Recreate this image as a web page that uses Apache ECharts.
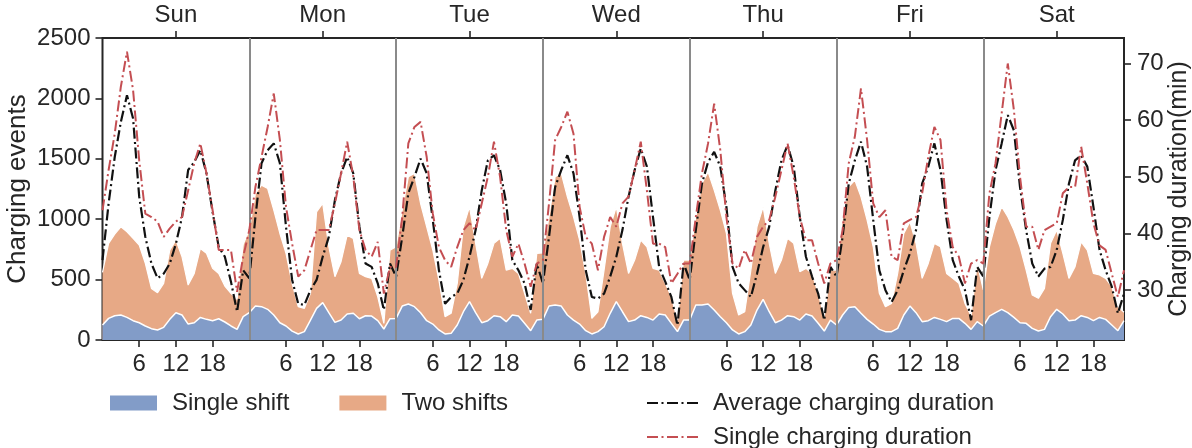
<!DOCTYPE html>
<html>
<head>
<meta charset="utf-8">
<script src="https://cdn.jsdelivr.net/npm/echarts@6/dist/echarts.min.js"></script>
<style>
  html, body { margin: 0; padding: 0; background: #ffffff; }
  #chart { width: 1192px; height: 448px; }
</style>
</head>
<body>
<div id="chart"></div>
<script>
// Week of hourly charging activity: one row per day, 24 hourly values each.
const days = ['Sun', 'Mon', 'Tue', 'Wed', 'Thu', 'Fri', 'Sat'];
const hourTicks = [6, 12, 18];
const eventTicks = [0, 500, 1000, 1500, 2000, 2500];
const durationTicks = [30, 40, 50, 60, 70];

// Charging events by drivers working a single shift
const singleShift = [
  [124,179,201,207,187,160,143,116,94,83,105,171,226,207,132,143,187,171,160,176,149,116,88,193],
  [226,281,276,254,207,143,116,74,50,69,165,262,309,226,146,165,215,221,176,201,198,160,91,176],
  [179,281,298,276,226,160,132,83,50,55,124,234,317,226,143,160,201,193,152,207,198,138,77,165],
  [171,281,289,281,207,165,132,77,50,69,110,221,317,234,152,165,201,187,165,215,207,138,69,165],
  [165,289,289,298,248,193,143,83,50,69,124,248,336,234,143,165,201,193,165,215,198,138,74,165],
  [124,207,270,276,221,171,132,88,69,69,96,207,281,226,152,160,187,171,152,179,179,138,88,152],
  [116,198,226,254,226,187,143,138,96,74,88,193,254,215,160,165,201,187,160,187,171,124,77,160]
];

// Charging events by drivers working two shifts (stacked on top)
const twoShifts = [
  [436,621,676,730,709,681,643,518,333,308,364,573,601,482,323,408,571,546,433,375,298,270,248,597],
  [684,932,1006,1000,868,739,601,395,226,193,221,799,821,546,378,483,653,620,375,323,312,198,47,568],
  [593,794,1053,1103,904,777,612,413,143,166,345,703,786,574,367,474,599,648,427,386,353,248,144,552],
  [551,739,1062,1098,978,855,695,474,129,165,469,716,786,566,399,497,626,585,428,364,262,220,96,497],
  [497,731,1007,1094,993,882,739,303,157,165,455,689,767,566,408,497,640,607,400,378,353,248,119,414],
  [455,813,998,1047,964,822,640,298,207,234,455,675,698,574,358,474,613,601,399,331,290,165,112,482],
  [298,574,739,849,794,723,629,441,276,271,339,607,656,502,350,442,612,557,391,351,339,317,199,70]
];

// Average charging duration (min)
const avgDuration = [
  [35.3,45.3,53.5,59.7,64.4,60.3,46.5,39.4,34.7,32.1,32.9,34.7,38.2,42.9,51.2,52.6,54.7,50.6,43.8,37.6,35.9,31.5,26.2,33.5],
  [32.1,42.9,52.4,54.7,55.9,52.4,41.2,31.8,27.6,27.4,30.0,31.8,35.9,39.4,45.9,50.6,53.5,50.6,41.2,34.7,34.1,31.2,26.5,34.7],
  [32.4,39.4,47.1,50.0,53.2,50.6,42.4,33.5,27.6,28.8,29.4,31.8,35.9,40.6,47.6,52.9,53.8,51.2,45.3,35.3,33.5,31.2,26.5,34.7],
  [31.2,39.4,48.2,51.2,53.8,50.6,42.9,33.5,28.8,28.5,29.4,32.4,35.9,40.6,46.5,51.2,55.0,51.8,42.9,34.1,31.5,28.8,23.8,34.7],
  [31.8,40.6,48.8,52.6,54.4,51.8,44.7,34.1,31.2,30.0,28.8,32.9,37.6,41.2,47.6,52.9,55.6,51.8,42.9,35.9,32.4,29.4,24.7,34.1],
  [32.4,39.4,48.8,52.9,56.2,51.8,42.4,33.5,30.0,27.9,30.0,33.5,36.5,40.6,48.8,51.8,55.9,51.2,42.4,35.3,32.4,30.0,24.7,34.1],
  [32.4,42.9,51.2,55.9,60.9,58.2,48.2,40.6,34.7,32.4,33.8,34.1,37.1,42.4,48.8,52.9,53.8,51.8,44.7,37.1,33.5,30.6,25.9,29.4]
];

// Duration of a single charging session (min)
const singleDuration = [
  [44.1,51.2,57.6,65.9,72.1,65.3,52.9,43.5,42.9,42.1,39.4,40.9,42.1,42.9,47.6,52.4,55.9,50.6,44.1,37.1,37.1,37.1,29.7,35.9],
  [40.6,48.2,53.5,58.8,64.7,56.5,44.7,38.2,32.4,33.5,37.1,40.6,40.6,40.6,45.3,50.6,56.2,50.0,40.6,37.1,35.9,38.5,29.4,34.1],
  [34.1,42.9,55.9,58.8,59.7,53.5,43.5,37.6,35.3,34.1,37.6,40.6,41.8,40.6,45.3,50.0,56.2,50.0,40.6,35.9,38.2,34.7,30.6,34.7],
  [35.3,45.3,56.5,58.8,61.5,57.6,44.7,39.4,38.2,33.5,39.4,42.9,41.2,45.3,46.5,51.2,56.2,47.6,38.2,38.2,37.6,31.2,32.9,34.7],
  [34.7,42.9,50.6,55.9,62.9,54.7,42.9,34.7,33.8,37.1,34.7,39.4,41.2,42.4,46.5,51.2,55.9,50.0,42.9,38.8,38.8,34.7,31.2,34.7],
  [35.3,40.6,52.4,57.1,65.6,56.5,45.3,42.9,44.1,35.9,35.3,41.8,42.4,42.9,47.1,53.5,58.8,56.5,44.1,37.6,35.9,31.2,34.7,35.3],
  [34.7,47.1,52.4,61.2,70.0,61.8,50.0,41.2,41.2,37.1,40.6,41.2,41.8,47.1,48.2,48.2,55.3,48.8,41.8,37.9,37.1,32.9,28.8,33.5]
];

const FONT = '"Liberation Sans", Arial, Helvetica, sans-serif';
const INK = '#262626';
const BLUE = '#829CC8';
const ORANGE = '#E7A986';
const RED = '#C44E52';
const BLACK = '#111111';

const HOURS = 24;
const xMax = HOURS * days.length - 1;
const points = rows => rows.flat().map((v, i) => [i, v]);

// The two-shift layer sits on top of the single-shift layer: its upper edge is the running total.
const singleFlat = singleShift.flat();
const stackedTop = twoShifts.flat().map((v, i) => [i, v + singleFlat[i]]);

const bottomTicks = [];
days.forEach((d, k) => hourTicks.forEach(h => bottomTicks.push(k * HOURS + h)));
const dayCenters = days.map((d, k) => k * HOURS + HOURS / 2);
const dayBounds = days.slice(1).map((d, k) => (k + 1) * HOURS);

// Frame is drawn by the grid border; axes only contribute outward ticks and labels.
const hiddenLine = { show: false, onZero: false };
const ticks = values => ({
  show: true, inside: false, length: 7, customValues: values,
  lineStyle: { color: INK, width: 1.6 }
});
const labels = (values, margin, formatter) => ({
  customValues: values, margin: margin, formatter: formatter,
  fontFamily: FONT, fontSize: 24, color: INK
});
const labelStyle = { fontFamily: FONT, fontSize: 24, color: INK };

const lineLegend = (name, top) => ({
  data: [name],
  orient: 'horizontal', left: 641, top: top,
  itemWidth: 54, itemHeight: 14,
  itemStyle: { opacity: 0 },
  textStyle: Object.assign({ padding: [0, 0, 0, 7] }, labelStyle)
});

const chart = echarts.init(document.getElementById('chart'), null, { renderer: 'canvas' });

chart.setOption({
  animation: false,
  backgroundColor: '#ffffff',
  textStyle: { fontFamily: FONT },
  grid: {
    left: 102.5, right: 68, top: 38, bottom: 108,
    outerBoundsMode: 'none', containLabel: false,
    show: true, borderColor: INK, borderWidth: 2, backgroundColor: 'transparent'
  },
  legend: [
    {
      data: [
        { name: 'Single shift', itemStyle: { color: BLUE, borderWidth: 0 } },
        { name: 'Two shifts', itemStyle: { color: ORANGE, borderWidth: 0 } }
      ],
      orient: 'horizontal', left: 105, top: 386,
      icon: 'rect', itemWidth: 47, itemHeight: 15, itemGap: 50,
      textStyle: Object.assign({ padding: [0, 0, 0, 10] }, labelStyle)
    },
    lineLegend('Average charging duration', 386),
    lineLegend('Single charging duration', 420)
  ],
  xAxis: [
    {
      type: 'value', position: 'bottom', min: 0, max: xMax,
      axisLine: hiddenLine, splitLine: { show: false }, minorTick: { show: false },
      axisTick: ticks(bottomTicks),
      axisLabel: labels(bottomTicks, 12, v => String(v % HOURS))
    },
    {
      type: 'value', position: 'top', min: 0, max: xMax,
      axisLine: hiddenLine, splitLine: { show: false }, minorTick: { show: false },
      axisTick: ticks(dayCenters),
      axisLabel: labels(dayCenters, 11, v => days[Math.round((v - HOURS / 2) / HOURS)])
    }
  ],
  yAxis: [
    {
      type: 'value', position: 'left', min: 0, max: 2500,
      axisLine: hiddenLine, splitLine: { show: false }, minorTick: { show: false },
      axisTick: ticks(eventTicks),
      axisLabel: labels(eventTicks, 12, v => String(v)),
      name: 'Charging events', nameLocation: 'middle', nameGap: 72, nameRotate: 90,
      nameMoveOverlap: false,
      nameTextStyle: { fontFamily: FONT, fontSize: 26, color: INK }
    },
    {
      type: 'value', position: 'right', min: 21.2, max: 74.5,
      axisLine: hiddenLine, splitLine: { show: false }, minorTick: { show: false },
      axisTick: ticks(durationTicks),
      axisLabel: labels(durationTicks, 13, v => String(v)),
      name: 'Charging duration(min)', nameLocation: 'middle', nameGap: 43, nameRotate: 90,
      nameMoveOverlap: false,
      nameTextStyle: { fontFamily: FONT, fontSize: 25, color: INK }
    }
  ],
  series: [
    {
      name: 'Two shifts', type: 'line', z: 2,
      data: stackedTop, symbol: 'none',
      itemStyle: { color: ORANGE },
      lineStyle: { color: '#ffffff', width: 1.2 },
      areaStyle: { color: ORANGE, opacity: 1 }
    },
    {
      name: 'Single shift', type: 'line', z: 2,
      data: points(singleShift), symbol: 'none',
      itemStyle: { color: BLUE },
      lineStyle: { color: '#ffffff', width: 1.5 },
      areaStyle: { color: BLUE, opacity: 1 }
    },
    {
      // day separators
      name: 'days', type: 'line', z: 3, data: [], silent: true,
      markLine: {
        silent: true, symbol: 'none', animation: false,
        label: { show: false },
        lineStyle: { color: '#8a8a8a', width: 2, type: 'solid' },
        data: dayBounds.map(x => ({ xAxis: x }))
      }
    },
    {
      name: 'Average charging duration', type: 'line', yAxisIndex: 1, z: 4,
      data: points(avgDuration), symbol: 'none',
      itemStyle: { color: BLACK },
      lineStyle: { color: BLACK, width: 2.2, type: [11, 3.5, 2, 3.5] }
    },
    {
      name: 'Single charging duration', type: 'line', yAxisIndex: 1, z: 5,
      data: points(singleDuration), symbol: 'none',
      itemStyle: { color: RED },
      lineStyle: { color: RED, width: 2, type: [11, 3.5, 2, 3.5] }
    }
  ]
});
</script>
</body>
</html>
